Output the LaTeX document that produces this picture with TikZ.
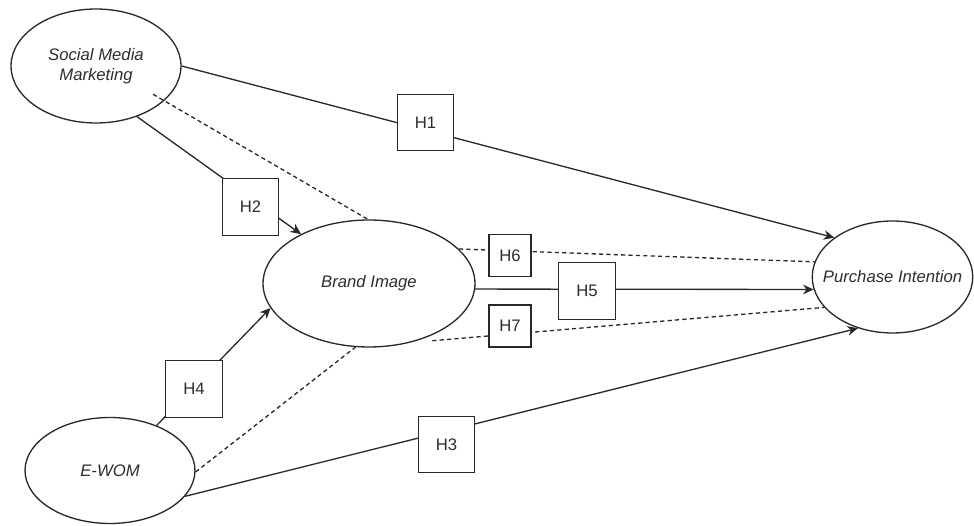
\documentclass[tikz,border=0pt]{standalone}
\usepackage{fontspec}
\setmainfont{Liberation Sans}
\usetikzlibrary{shapes.geometric,arrows.meta}
\definecolor{ink}{RGB}{40,40,40}
\definecolor{txt}{RGB}{45,45,45}
\begin{document}
\begin{tikzpicture}[x=0.02cm,y=-0.02cm,
  latent/.style={ellipse,draw=ink,line width=0.75pt,fill=white,inner sep=0pt,
    font=\fontsize{9.5}{11.3}\selectfont\itshape,text=txt,align=center},
  hyp/.style={rectangle,draw=ink,line width=0.75pt,fill=white,inner sep=0pt,
    minimum size=1.13cm,font=\fontsize{9.5}{11}\selectfont,text=txt},
  hypsmall/.style={hyp,minimum size=0.84cm},
  effect/.style={ink,line width=0.75pt,-{Stealth[length=6pt,width=5.5pt]}},
  mediated/.style={ink,line width=0.75pt,dash pattern=on 2.4pt off 1.8pt}]
\useasboundingbox (0,0) rectangle (974,526);

% latent constructs
\node[latent,minimum width=3.40cm,minimum height=2.28cm] (smm) at (96,66) {Social Media\\Marketing};
\node[latent,minimum width=4.24cm,minimum height=2.54cm] (bi) at (369,283.5) {Brand Image};
\node[latent,minimum width=3.21cm,minimum height=2.24cm] (pi) at (892.5,277) {\makebox[0pt]{Purchase Intention}};
\node[latent,minimum width=3.40cm,minimum height=2.12cm] (ew) at (110,470.5) {E-WOM};

% direct effects
\draw[effect] (smm.east) -- (pi.146);
\draw[effect] (smm.-51) -- (bi.144.7);
\draw[effect] (ew.44.7) -- (bi.-166.5);
\draw[effect] (ew.-19.65) -- (pi.-124);
\draw[effect] (bi.-3.5) -- (pi.-171);

% mediated paths
\draw[mediated,shorten <=-7.4pt] (smm.-27.2) -- (bi.91.8);
\draw[mediated] (ew.-1) -- (bi.-102.8);
\draw[mediated] (bi.21.75) -- (pi.169);
\draw[mediated,shorten <=12.5pt] (bi.-55) -- (pi.-156.3);

% hypothesis labels
\node[hyp] (h1) at (425.5,122.5) {H1};
\node[hyp] (h2) at (250.5,207) {H2};
\node[hyp] (h3) at (446.5,444.5) {H3};
\node[hyp] (h4) at (194,389) {H4};
\node[hyp] (h5) at (587,291) {H5};
\node[hypsmall] (h6) at (510,255.5) {H6};
\node[hypsmall] (h7) at (510,326) {H7};
\end{tikzpicture}
\end{document}
